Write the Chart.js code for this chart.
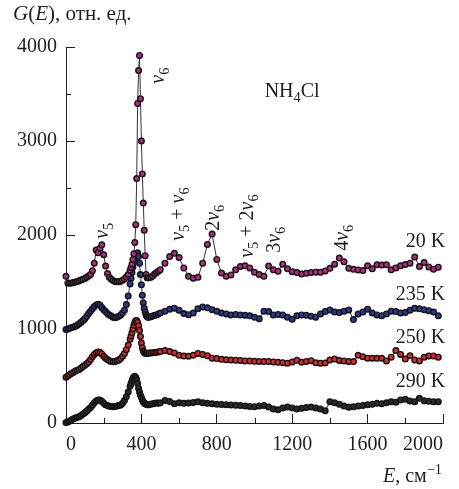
<!DOCTYPE html>
<html>
<head>
<meta charset="utf-8">
<script src="https://cdn.jsdelivr.net/npm/chart.js@4/dist/chart.umd.min.js"></script>
<style>
  body { margin: 0; background: #fff; }
  canvas { display: block; }
</style>
</head>
<body>
<canvas id="gChart" width="459" height="489"></canvas>
<script>
// energy grid, cm^-1 (denser around the low-frequency peaks)
const energy = [
  0,10,20,30,40,50,60,70,80,90,100,110,120,130,140,150,160,170,180,190,200,210,220,230,240,250,260,270,280,290,300,310,320,330,340,
  345,350,355,360,365,370,375,380,385,390,395,400,405,410,415,420,425,430,435,440,
  450,460,470,480,490,500,
  525,550,575,600,625,650,675,700,725,750,775,800,825,850,875,900,925,950,975,1000,
  1025,1050,1075,1100,1125,1150,1175,1200,1225,1250,1275,1300,1325,1350,1375,1400,1425,1450,1475,1500,
  1525,1550,1575,1600,1625,1650,1675,1700,1725,1750,1775,1800,1825,1850,1875,1900,1925,1950,1975
];

// G(E) for each temperature, already shifted up for display
const g20 = [
  1560,1490,1488,1490,1495,1500,1505,1512,1520,1528,1538,1550,1565,1580,1620,1700,1840,1810,1860,1895,1790,1670,1590,1550,1530,1515,1505,1502,1503,1508,1518,1532,1552,1580,1625,
  1655,1690,1740,1800,1920,2110,2600,3400,3750,3910,3450,3000,2650,2340,2050,1780,1580,1545,1545,1545,
  1550,1565,1585,1600,1615,1630,
  1700,1770,1805,1760,1650,1560,1540,1550,1700,1900,2010,1740,1595,1560,1575,1630,1665,1672,1650,1605,
  1580,1560,1670,1630,1615,1690,1640,1610,1600,1585,1594,1600,1605,1605,1618,1645,1690,1754,1715,1645,
  1635,1628,1622,1672,1640,1683,1680,1683,1630,1650,1672,1685,1700,1765,1665,1707,1660,1636,1658
];

const g235 = [
  995,1000,1008,1015,1022,1030,1040,1055,1072,1090,1110,1135,1165,1190,1215,1240,1255,1262,1255,1230,1205,1185,1165,1150,1138,1125,1120,1125,1135,1150,1170,1200,1260,1350,1480,
  1540,1600,1660,1715,1750,1780,1800,1810,1770,1700,1580,1470,1360,1280,1220,1180,1150,1130,1125,1125,
  1130,1138,1145,1150,1160,1170,
  1190,1210,1222,1200,1165,1152,1170,1215,1235,1225,1205,1190,1170,1160,1150,1155,1150,1145,1140,1125,
  1110,1190,1185,1150,1155,1150,1125,1105,1140,1150,1145,1135,1126,1160,1185,1203,1180,1175,1190,1203,
  1100,1160,1180,1211,1170,1150,1142,1160,1190,1185,1170,1175,1200,1221,1215,1205,1195,1180,1140
];

const g250 = [
  487,500,515,528,540,552,560,570,585,600,615,630,650,675,705,730,748,755,752,735,710,690,675,662,655,652,655,662,670,685,710,740,780,830,890,
  925,960,1000,1040,1070,1088,1090,1070,1035,985,920,850,800,765,750,742,740,740,742,745,
  745,748,750,752,755,760,
  770,760,745,720,712,710,722,740,730,715,690,685,678,672,670,668,665,660,660,657,
  655,653,655,650,645,642,636,650,668,645,655,663,640,636,638,670,680,665,660,653,
  653,720,705,690,690,688,689,660,700,770,730,680,715,671,660,700,712,714,700
];

const g290 = [
  5,10,22,35,45,52,60,67,80,95,110,128,145,165,188,215,235,245,245,232,212,195,185,178,175,174,176,180,185,192,210,240,280,330,390,
  420,450,475,490,497,485,460,420,370,330,295,270,245,225,212,205,200,197,195,195,
  200,205,210,212,210,215,
  240,228,205,215,210,212,218,225,215,210,205,200,198,195,192,188,185,180,176,174,
  180,185,170,150,140,160,170,160,150,156,165,170,160,150,131,225,215,200,180,168,
  172,180,185,195,200,210,205,215,227,220,245,252,235,227,263,238,232,227,226
];

const temps = ['20 K', '235 K', '250 K', '290 K'];
const fills = ['#b52a82', '#2b3990', '#e3262d', '#2a2a2a'];
const seriesG = [g20, g235, g250, g290];

// tick values
const xMajor = [0, 400, 800, 1200, 1600, 2000];
const xMinor = [200, 600, 1000, 1400, 1800];
const yMajor = [0, 1000, 2000, 3000, 4000];
const yMinor = [500, 1500, 2500, 3500];

// temperature captions: [E, G] of the right end of the baseline
const tempAt = [[2011, 1874], [2011, 1310], [2011, 852], [2011, 383]];

// mode assignments, rotated; [E, G] is where the text starts
const nu = (n) => [{ t: 'ν', it: true }, { t: n, sub: true }];
const modeLabels = [
  { at: [222, 1960], parts: nu('5') },
  { at: [518, 3610], parts: nu('6') },
  { at: [624, 1938], parts: [...nu('5'), { t: ' + ' }, ...nu('6')] },
  { at: [810, 2045], parts: [{ t: '2' }, ...nu('6')] },
  { at: [991, 1757], parts: [...nu('5'), { t: ' + 2' }, ...nu('6')] },
  { at: [1134, 1810], parts: [{ t: '3' }, ...nu('6')] },
  { at: [1495, 1832], parts: [{ t: '4' }, ...nu('6')] }
];

const FONT = '"Liberation Serif", serif';
const INK = '#1e1e1e';

Chart.defaults.font.family = FONT;
Chart.defaults.color = INK;

function richText(ctx, parts, x, y, angle, size, align) {
  ctx.save();
  ctx.translate(x, y);
  ctx.rotate(angle);
  ctx.textBaseline = 'alphabetic';
  ctx.textAlign = 'left';
  const fontFor = (p) => {
    const fs = (p.sub || p.sup) ? size * 0.72 : size;
    return (p.it ? 'italic ' : '') + fs + 'px ' + FONT;
  };
  let total = 0;
  for (const p of parts) { ctx.font = fontFor(p); total += ctx.measureText(p.t).width; }
  let cx = align === 'right' ? -total : 0;
  for (const p of parts) {
    ctx.font = fontFor(p);
    const dy = p.sub ? size * 0.28 : p.sup ? -size * 0.42 : 0;
    ctx.fillText(p.t, cx, dy);
    cx += ctx.measureText(p.t).width;
  }
  ctx.restore();
}

const decorations = {
  id: 'decorations',
  afterDraw(chart) {
    const { ctx, chartArea, scales: { x, y } } = chart;
    ctx.save();
    // short minor ticks, pointing inwards
    ctx.strokeStyle = INK;
    ctx.lineWidth = 1;
    ctx.beginPath();
    for (const v of xMinor) {
      const px = Math.round(x.getPixelForValue(v)) + 0.5;
      ctx.moveTo(px, chartArea.bottom);
      ctx.lineTo(px, chartArea.bottom - 5);
    }
    for (const v of yMinor) {
      const py = Math.round(y.getPixelForValue(v)) + 0.5;
      ctx.moveTo(chartArea.left, py);
      ctx.lineTo(chartArea.left + 5, py);
    }
    ctx.stroke();

    ctx.fillStyle = INK;
    for (const m of modeLabels) {
      richText(ctx, m.parts, x.getPixelForValue(m.at[0]), y.getPixelForValue(m.at[1]), -Math.PI / 2, 20);
    }
    temps.forEach((t, i) => {
      richText(ctx, [{ t: t }], x.getPixelForValue(tempAt[i][0]), y.getPixelForValue(tempAt[i][1]), 0, 20, 'right');
    });
    richText(ctx, [{ t: 'NH' }, { t: '4', sub: true }, { t: 'Cl' }],
      x.getPixelForValue(1054), y.getPixelForValue(3472), 0, 20);

    // axis titles
    richText(ctx, [{ t: 'G', it: true }, { t: '(' }, { t: 'E', it: true }, { t: '), отн. ед.' }], 13, 20, 0, 21);
    richText(ctx, [{ t: 'E', it: true }, { t: ', см' }, { t: '−1', sup: true }], 383, 482, 0, 20);
    ctx.restore();
  }
};

const datasets = temps.map((t, i) => ({
  label: t,
  data: energy.map((e, k) => ({ x: e, y: seriesG[i][k] })),
  borderColor: '#333333',
  borderWidth: 1,
  pointRadius: 2.8,
  pointBackgroundColor: fills[i],
  pointBorderColor: '#141414',
  pointBorderWidth: 1.4,
  tension: 0,
  clip: false
}));

const tickFont = { family: FONT, size: 20, style: 'normal', weight: 'normal' };

new Chart(document.getElementById('gChart'), {
  type: 'line',
  data: { datasets: datasets },
  options: {
    responsive: false,
    animation: false,
    events: [],
    layout: { padding: { left: 0, top: 47, right: 16, bottom: 0 } },
    plugins: { legend: { display: false }, tooltip: { enabled: false } },
    scales: {
      x: {
        type: 'linear',
        min: 0,
        max: 2000,
        afterBuildTicks: (s) => { s.ticks = xMajor.map(v => ({ value: v })); },
        afterFit: (s) => { s.height = 66; s.paddingLeft = 0; s.paddingRight = 0; },
        grid: { drawOnChartArea: false, tickLength: -9, color: INK, tickColor: INK },
        border: { display: true, color: INK, width: 1 },
        ticks: {
          padding: 19, color: INK, maxRotation: 0, align: 'inner', font: tickFont,
          callback: (v) => String(v)
        }
      },
      y: {
        type: 'linear',
        min: 0,
        max: 4000,
        afterBuildTicks: (s) => { s.ticks = yMajor.map(v => ({ value: v })); },
        afterFit: (s) => { s.width = 66; },
        grid: { drawOnChartArea: false, tickLength: -9, color: INK, tickColor: INK },
        border: { display: true, color: INK, width: 1 },
        ticks: { padding: 18, color: INK, font: tickFont, callback: (v) => String(v) }
      }
    }
  },
  plugins: [decorations]
});
</script>
</body>
</html>
